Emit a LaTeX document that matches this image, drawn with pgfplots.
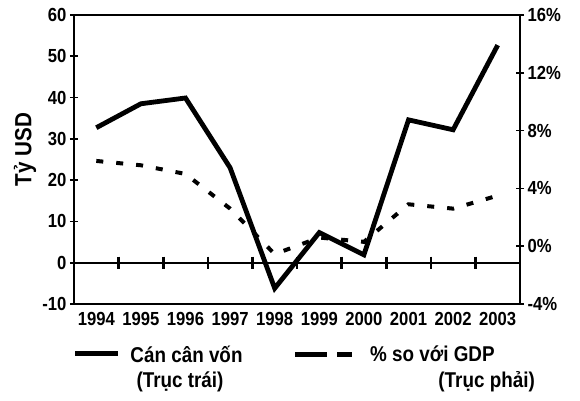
\documentclass[border=0pt]{standalone}
\usepackage{pgfplots}
\pgfplotsset{compat=1.18}
\usepackage{fontspec}
\setmainfont{Liberation Sans}[FakeStretch=0.88]
\newcommand{\tickfont}{\bfseries\fontsize{19}{21}\selectfont}
\newcommand{\bigfont}{\bfseries\fontsize{21.5}{24}\selectfont}
\newcommand{\labfont}{\bfseries\fontsize{23.5}{26}\selectfont}
\begin{document}
\begin{tikzpicture}
\begin{axis}[
  at={(0,0)}, anchor=south west,
  width=446bp, height=289bp, scale only axis,
  xmin=-0.5, xmax=9.5, ymin=-10, ymax=60,
  xtick={0,...,9},
  xticklabels={1994,1995,1996,1997,1998,1999,2000,2001,2002,2003},
  x tick style={draw=none},
  ytick={-10,0,10,20,30,40,50,60},
  yticklabels={-10,0,10,20,30,40,50,60},
  ytick pos=left,
  tick align=center,
  major tick length=8bp,
  y tick style={line width=1.6bp, black},
  axis line style={line width=2.2bp},
  ticklabel style={font=\tickfont},
  xticklabel style={yshift=-1bp},
  ylabel={Tỷ USD},
  ylabel style={font=\labfont, at={(axis description cs:-0.11,0.535)}, anchor=center},
]
\addplot[line width=2.4bp, black] coordinates {(-0.5,0) (9.5,0)};
\addplot[only marks, mark=|, mark size=6bp, mark options={line width=2.6bp}, black]
  coordinates {(0.5,0) (1.5,0) (2.5,0) (3.5,0) (4.5,0) (5.5,0) (6.5,0) (7.5,0) (8.5,0)};
\addplot[line width=4.8bp, black, line join=miter] coordinates {
  (0,32.7) (1,38.5) (2,39.9) (3,23.0) (4,-6.2) (5,7.3) (6,1.9) (7,34.6) (8,32.2) (9,52.7)};
\end{axis}
\begin{axis}[
  at={(0,0)}, anchor=south west,
  width=446bp, height=289bp, scale only axis,
  xmin=-0.5, xmax=9.5, ymin=-4, ymax=16,
  axis x line=none,
  axis y line*=right,
  ytick={-4,0,4,8,12,16},
  yticklabels={-4\%,0\%,4\%,8\%,12\%,16\%},
  tick align=center,
  major tick length=8bp,
  y tick style={line width=1.6bp, black},
  axis line style={line width=2.2bp, -},
  ticklabel style={font=\tickfont},
]
\addplot[line width=4bp, black, dash pattern=on 7bp off 13bp] coordinates {
  (0,5.9) (1,5.6) (2,5.0) (3,2.6) (4,-0.55) (5,0.6) (6,0.3) (7,2.9) (8,2.6) (9,3.5)};
\end{axis}
% legend
\draw[line width=5bp] (1bp,-49bp) -- (44bp,-49bp);
\node[font=\bigfont, anchor=center] at (112.5bp,-50bp) {Cán cân vốn};
\node[font=\bigfont, anchor=center] at (106bp,-78bp) {(Trục trái)};
\draw[line width=5bp] (221bp,-50bp) -- (253bp,-50bp);
\draw[line width=5bp] (263bp,-50bp) -- (278bp,-50bp);
\node[font=\bigfont, anchor=west, inner sep=0pt] at (296bp,-50bp) {\% so với GDP};
\node[font=\bigfont, anchor=east, inner sep=0pt] at (461bp,-78bp) {(Trục phải)};
\pgfresetboundingbox
\path (-74bp,-97bp) rectangle (506bp,304bp);
\end{tikzpicture}
\end{document}
